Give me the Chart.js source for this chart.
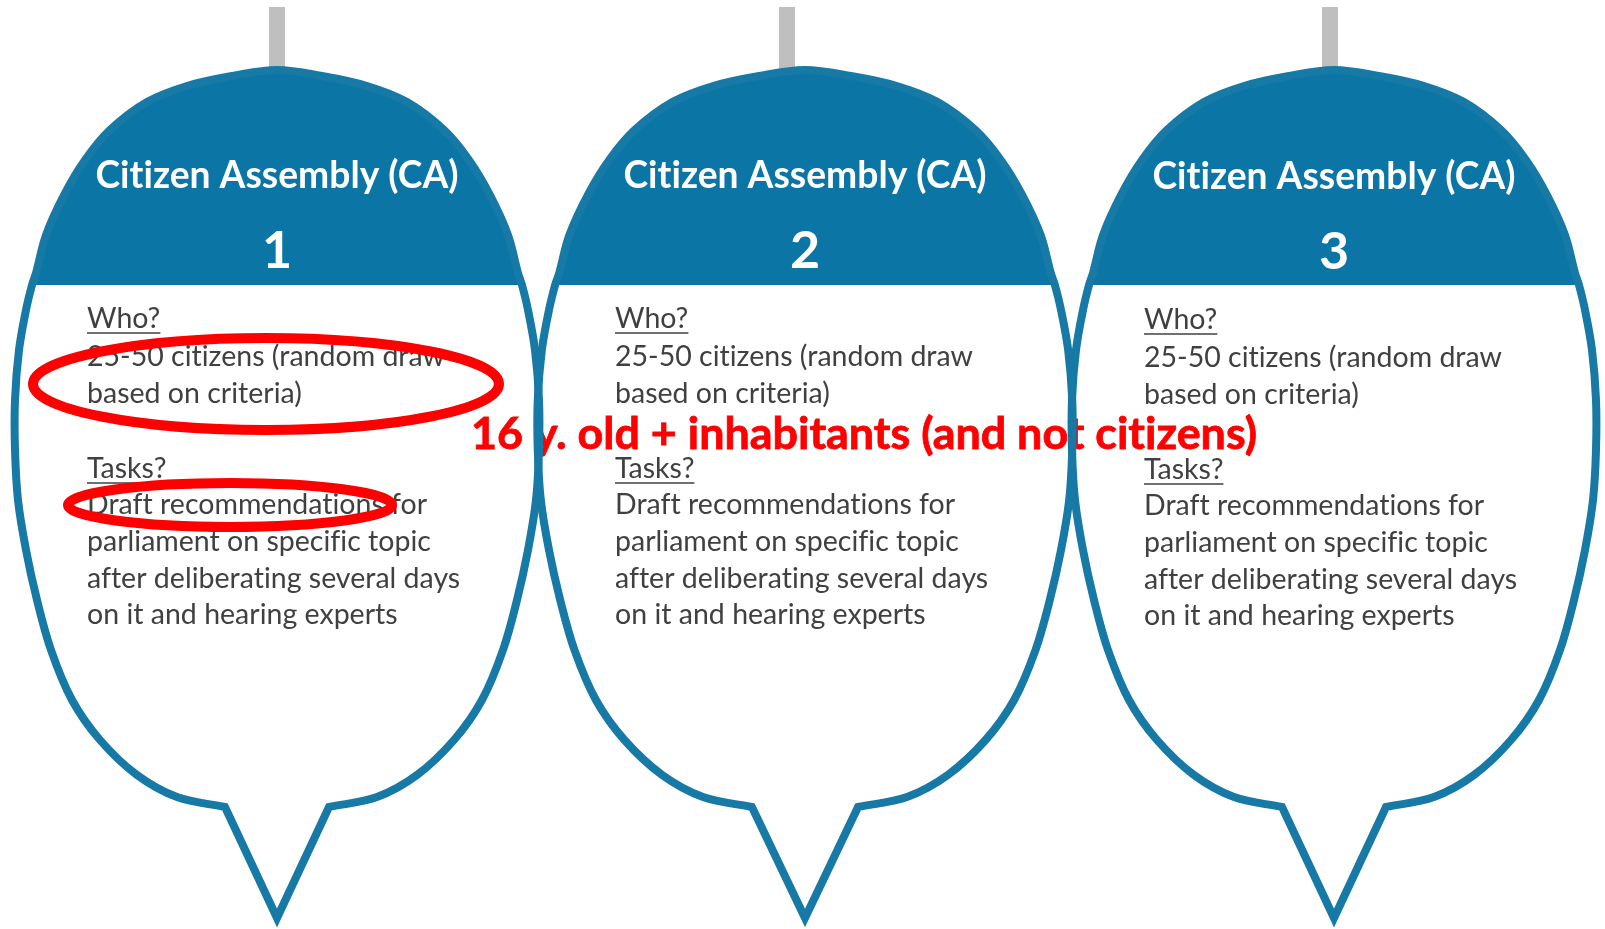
<!DOCTYPE html>
<html>
<head>
<meta charset="utf-8">
<title>Citizen Assembly</title>
<script src="https://cdn.jsdelivr.net/npm/chart.js@4.4.1/dist/chart.umd.min.js"></script>
<style>
    html, body { margin: 0; padding: 0; background: #ffffff; }
    #wrap { width: 1605px; height: 929px; }
</style>
</head>
<body>
<div id="wrap"><canvas id="diagram" width="1605" height="929"></canvas></div>
<script>
(function() {
    'use strict';

    // texts
    const titleText = 'Citizen Assembly (CA)';
    const balloonNumbers = ['1', '2', '3'];
    const whoHeading = 'Who?';
    const whoLines = ['25-50 citizens (random draw', 'based on criteria)'];
    const tasksHeading = 'Tasks?';
    const taskLines = [
        'Draft recommendations for',
        'parliament on specific topic',
        'after deliberating several days',
        'on it and hearing experts'
    ];
    const noteText = '16 y. old + inhabitants (and not citizens)';

    // balloon shape (pixels of the 1605x929 picture)
    const balloonCenterX = [277, 805, 1334];
    const balloonWidthScale = [1, 1.02, 1];
    const stemX = [277, 787, 1330];
    const stemY = [7, 72];
    const outlineY = [70, 76, 86, 102, 130, 160, 195, 235, 273, 285, 310, 350, 400, 450, 500, 550, 600, 650, 700, 740, 775, 797, 807];
    const outlineHalf = [0, 45, 90, 130, 167, 192, 213, 231, 241, 245, 251, 258, 262, 262, 259, 251, 240, 226, 205, 177, 140, 100, 52];
    const bandBottomIndex = 9;
    const tailTipY = 918;

    // red highlight ellipses
    const highlightCx = [266, 230];
    const highlightCy = [384, 505];
    const highlightRx = [233, 162];
    const highlightRy = [46, 22];

    const BLUE_BAND = '#0b76a5';
    const BLUE_LINE = '#1779a5';
    const GREY_STEM = '#bfbfbf';
    const TEXT_GREY = '#404040';
    const RED = '#ff0000';
    const FONT = 'Lato, "Open Sans", sans-serif';

    const layout = {
        titleBaseline: 188,
        titleWidth: 363,
        numberBaseline: 268,
        numberSize: 52,
        textOffsetX: -190,
        bodyBaselines: [328, 366, 403, 478, 514, 551, 588, 624],
        bodyRefWidth: 373,
        noteLeft: 471,
        noteBaseline: 449,
        noteWidth: 786
    };

    function pt(x, y) {
        return { x: x, y: y };
    }

    function outlinePoints(i) {
        var cx = balloonCenterX[i], s = balloonWidthScale[i];
        var last = outlineY.length - 1;
        var pts = [pt(cx, tailTipY)];
        for (var k = last; k >= 0; k--) {
            var p = pt(cx + outlineHalf[k] * s, outlineY[k]);
            pts.push(p);
            if (k === last) pts.push(pt(p.x, p.y)); // sharp corner
        }
        for (var j = 1; j <= last; j++) {
            var q = pt(cx - outlineHalf[j] * s, outlineY[j]);
            if (j === last) pts.push(pt(q.x, q.y));
            pts.push(q);
        }
        pts.push(pt(cx, tailTipY), pt(cx, tailTipY));
        pts.push(pt(cx + outlineHalf[last] * s, outlineY[last]));
        return pts;
    }

    function bandPoints(i) {
        var cx = balloonCenterX[i], s = balloonWidthScale[i];
        var pts = [];
        for (var k = bandBottomIndex; k >= 0; k--) {
            pts.push(pt(cx + outlineHalf[k] * s, outlineY[k]));
        }
        for (var j = 1; j <= bandBottomIndex; j++) {
            pts.push(pt(cx - outlineHalf[j] * s, outlineY[j]));
        }
        return pts;
    }

    function buildDatasets() {
        var sets = [];
        balloonCenterX.forEach(function(cx, i) {
            sets.push({
                role: 'stem', data: [pt(stemX[i], stemY[0]), pt(stemX[i], stemY[1])],
                showLine: true, borderColor: GREY_STEM, borderWidth: 16, borderCapStyle: 'butt',
                pointRadius: 0, fill: false, order: 50
            });
            sets.push({
                role: 'body', data: outlinePoints(i),
                showLine: true, borderWidth: 0, borderColor: 'rgba(0,0,0,0)',
                backgroundColor: '#ffffff', fill: 'shape', tension: 0.35,
                pointRadius: 0, order: 40
            });
            sets.push({
                role: 'band', balloon: i, data: bandPoints(i),
                showLine: true, borderWidth: 0, borderColor: 'rgba(0,0,0,0)',
                backgroundColor: BLUE_BAND, fill: 'shape', tension: 0.35,
                pointRadius: 0, order: 30
            });
            sets.push({
                role: 'outline', data: outlinePoints(i),
                showLine: true, borderColor: BLUE_LINE, borderWidth: 8,
                borderJoinStyle: 'miter', fill: false, tension: 0.35,
                pointRadius: 0, order: 20
            });
        });
        return sets;
    }

    function fitSize(ctx, text, weight, width) {
        ctx.font = weight + ' 100px ' + FONT;
        return 100 * width / ctx.measureText(text).width;
    }

    function noLigatures(ctx) {
        if ('letterSpacing' in ctx) ctx.letterSpacing = '0.01px';
    }

    function drawBalloonText(chart, i) {
        var ctx = chart.ctx;
        var xs = chart.scales.x, ys = chart.scales.y;
        var cx = xs.getPixelForValue(balloonCenterX[i]);
        var dy = i === 2 ? 1 : 0;

        ctx.save();
        noLigatures(ctx);
        ctx.fillStyle = '#ffffff';
        ctx.textAlign = 'center';
        ctx.textBaseline = 'alphabetic';
        var tSize = fitSize(ctx, titleText, 'bold', layout.titleWidth);
        ctx.font = 'bold ' + tSize + 'px ' + FONT;
        ctx.fillText(titleText, cx, ys.getPixelForValue(layout.titleBaseline + dy));
        ctx.font = 'bold ' + layout.numberSize + 'px ' + FONT;
        ctx.fillText(balloonNumbers[i], cx, ys.getPixelForValue(layout.numberBaseline + dy));

        var bSize = fitSize(ctx, taskLines[2], 'normal', layout.bodyRefWidth);
        ctx.font = 'normal ' + bSize + 'px ' + FONT;
        ctx.textAlign = 'left';
        ctx.fillStyle = TEXT_GREY;
        ctx.strokeStyle = TEXT_GREY;
        ctx.lineWidth = 1.6;
        var left = xs.getPixelForValue(balloonCenterX[i] + layout.textOffsetX);
        var lines = [whoHeading].concat(whoLines, [tasksHeading], taskLines);
        lines.forEach(function(line, n) {
            var y = ys.getPixelForValue(layout.bodyBaselines[n] + dy);
            ctx.fillText(line, left, y);
            if (line === whoHeading || line === tasksHeading) {
                var w = ctx.measureText(line).width;
                ctx.beginPath();
                ctx.moveTo(left, y + 5);
                ctx.lineTo(left + w, y + 5);
                ctx.stroke();
            }
        });
        ctx.restore();
    }

    function drawNote(chart) {
        var ctx = chart.ctx;
        var xs = chart.scales.x, ys = chart.scales.y;
        ctx.save();
        noLigatures(ctx);
        var size = fitSize(ctx, noteText, 'bold', layout.noteWidth);
        ctx.font = 'bold ' + size + 'px ' + FONT;
        ctx.fillStyle = RED;
        ctx.strokeStyle = RED;
        ctx.lineWidth = 0.8;
        ctx.textAlign = 'left';
        var x = xs.getPixelForValue(layout.noteLeft), y = ys.getPixelForValue(layout.noteBaseline);
        ctx.fillText(noteText, x, y);
        ctx.strokeText(noteText, x, y);
        ctx.restore();
    }

    function drawHighlights(chart) {
        var ctx = chart.ctx;
        var xs = chart.scales.x, ys = chart.scales.y;
        ctx.save();
        ctx.strokeStyle = RED;
        ctx.lineWidth = 10;
        highlightCx.forEach(function(hx, k) {
            var px = xs.getPixelForValue(hx);
            var py = ys.getPixelForValue(highlightCy[k]);
            var rx = Math.abs(xs.getPixelForValue(hx + highlightRx[k]) - px);
            var ry = Math.abs(ys.getPixelForValue(highlightCy[k] + highlightRy[k]) - py);
            ctx.beginPath();
            ctx.ellipse(px, py, rx, ry, 0, 0, Math.PI * 2);
            ctx.stroke();
        });
        ctx.restore();
    }

    const annotations = {
        id: 'annotations',
        afterDatasetDraw: function(chart, args) {
            var ds = chart.data.datasets[args.index];
            if (ds.role !== 'band') return;
            drawBalloonText(chart, ds.balloon);
            if (ds.balloon === 0) drawNote(chart);
        },
        afterDatasetsDraw: function(chart) {
            drawHighlights(chart);
        }
    };

    function initDiagram() {
        var canvas = document.getElementById('diagram');
        new Chart(canvas, {
            type: 'scatter',
            data: { datasets: buildDatasets() },
            options: {
                responsive: false,
                devicePixelRatio: 1,
                animation: false,
                layout: { padding: 0 },
                plugins: {
                    legend: { display: false },
                    tooltip: { enabled: false },
                    filler: { drawTime: 'beforeDatasetDraw' }
                },
                scales: {
                    x: { type: 'linear', min: 0, max: 1605, display: false },
                    y: { type: 'linear', min: 0, max: 929, reverse: true, display: false }
                }
            },
            plugins: [annotations]
        });
    }

    if (document.readyState === 'loading') {
        document.addEventListener('DOMContentLoaded', initDiagram);
    } else {
        initDiagram();
    }
})();
</script>
</body>
</html>
